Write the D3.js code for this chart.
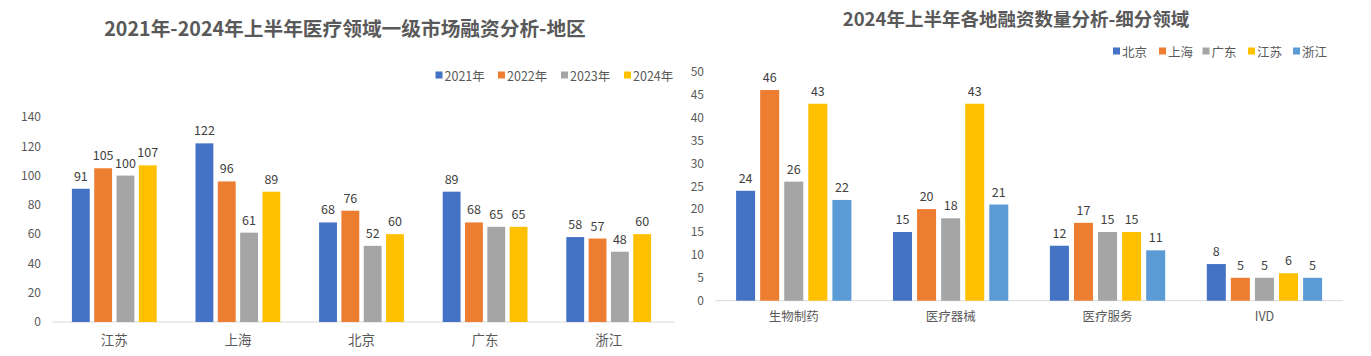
<!DOCTYPE html>
<html><head><meta charset="utf-8">
<script src="https://cdn.jsdelivr.net/npm/d3@7"></script>
<style>
html,body{margin:0;padding:0;background:#fff;}
svg{display:block;}
text{font-family:"Noto Sans CJK SC","Noto Sans",sans-serif;}
</style></head>
<body>
<svg id="c" width="1371" height="356"></svg>
<script>
// ---- Left chart data ----
const regions = ["江苏","上海","北京","广东","浙江"];
const years = ["2021年","2022年","2023年","2024年"];
const v2021 = [91,122,68,89,58];
const v2022 = [105,96,76,68,57];
const v2023 = [100,61,52,65,48];
const v2024 = [107,89,60,65,60];
const leftTicks = [0,20,40,60,80,100,120,140];
const leftTitle = "2021年-2024年上半年医疗领域一级市场融资分析-地区";

// ---- Right chart data ----
const segments = ["生物制药","医疗器械","医疗服务","IVD"];
const cities = ["北京","上海","广东","江苏","浙江"];
const bj = [24,15,12,8];
const sh = [46,20,17,5];
const gd = [26,18,15,5];
const js = [43,43,15,6];
const zj = [22,21,11,5];
const rightTicks = [0,5,10,15,20,25,30,35,40,45,50];
const rightTitle = "2024年上半年各地融资数量分析-细分领域";

const colorsL = ["#4472C4","#ED7D31","#A5A5A5","#FFC000"];
const colorsR = ["#4472C4","#ED7D31","#A5A5A5","#FFC000","#5B9BD5"];
const txt = "#595959";

const svg = d3.select("#c");

function drawChart(cfg){
  const g = svg.append("g");
  const x0 = d3.scaleBand().domain(cfg.cats).range(cfg.xr).paddingInner(cfg.pin).paddingOuter(cfg.pin/2);
  const x1 = d3.scaleBand().domain(cfg.series).range([0,x0.bandwidth()]).paddingInner(cfg.bin).paddingOuter(0);
  const y = d3.scaleLinear().domain(cfg.yd).range(cfg.yr);
  const color = d3.scaleOrdinal().domain(cfg.series).range(cfg.colors);

  // title
  g.append("text").attr("x",cfg.titleX).attr("y",cfg.titleY).attr("text-anchor","middle")
    .attr("dominant-baseline","central").attr("font-size",cfg.titleSize).attr("font-weight","bold")
    .attr("fill",txt).text(cfg.title);

  // y axis labels
  const ya = d3.axisLeft(y).tickValues(cfg.ticks).tickSize(0).tickPadding(0);
  const yg = g.append("g").attr("transform",`translate(${cfg.yLabelX},0)`).call(ya);
  yg.select(".domain").remove();
  yg.selectAll("text").attr("font-size",12).attr("fill",txt).attr("font-family",'"Noto Sans CJK SC",sans-serif');

  // baseline
  g.append("line").attr("x1",cfg.xr[0]).attr("x2",cfg.xr[1]+cfg.axisExtra).attr("y1",y(0)).attr("y2",y(0))
    .attr("stroke","#D9D9D9").attr("stroke-width",1);

  // x axis labels
  const xa = d3.axisBottom(x0).tickSize(0).tickPadding(0);
  const xg = g.append("g").attr("transform",`translate(0,${cfg.catY})`).call(xa);
  xg.select(".domain").remove();
  xg.selectAll("text").attr("font-size",cfg.catSize).attr("fill",txt).attr("dy","0.35em")
    .attr("font-family",'"Noto Sans CJK SC",sans-serif');

  // bars
  const rows = [];
  cfg.cats.forEach((c,i)=>cfg.series.forEach((s,j)=>rows.push({c,s,v:cfg.values[j][i]})));
  g.selectAll("rect.bar").data(rows).join("rect").attr("class","bar")
    .attr("x",d=>x0(d.c)+x1(d.s)).attr("width",x1.bandwidth())
    .attr("y",d=>y(d.v)).attr("height",d=>y(0)-y(d.v)).attr("fill",d=>color(d.s));
  g.selectAll("text.val").data(rows).join("text").attr("class","val")
    .attr("x",d=>x0(d.c)+x1(d.s)+x1.bandwidth()/2).attr("y",d=>y(d.v)-13.5)
    .attr("text-anchor","middle").attr("dominant-baseline","central")
    .attr("font-size",12.5).attr("fill","#404040").text(d=>d.v);

  // legend
  const lg = g.append("g");
  cfg.series.forEach((s,j)=>{
    const lx = cfg.legX[j];
    lg.append("rect").attr("x",lx).attr("y",cfg.legY-3.5).attr("width",7).attr("height",7).attr("fill",color(s));
    lg.append("text").attr("x",lx+9).attr("y",cfg.legY).attr("dominant-baseline","central")
      .attr("font-size",cfg.legSize).attr("fill",txt).text(s);
  });
}

drawChart({
  cats: regions, series: years, values:[v2021,v2022,v2023,v2024], colors: colorsL,
  xr:[52.5,670.5], pin:0.314, bin:0.2, yd:[0,140], yr:[322,117], ticks:leftTicks,
  yLabelX:41, axisExtra:4, catY:340, catSize:13.5,
  title:leftTitle, titleX:345, titleY:27, titleSize:19.7,
  legX:[435.5,498,561,624], legY:75, legSize:12.5
});

drawChart({
  cats: segments, series: cities, values:[bj,sh,gd,js,zj], colors: colorsR,
  xr:[715.3,1342.9], pin:0.265, bin:0.21, yd:[0,50], yr:[300.7,71.7], ticks:rightTicks,
  yLabelX:704, axisExtra:0, catY:316.5, catSize:12.5,
  title:rightTitle, titleX:1016, titleY:18, titleSize:18.5,
  legX:[1113,1159,1202.5,1248,1293], legY:51, legSize:12.5
});
</script>
</body></html>
